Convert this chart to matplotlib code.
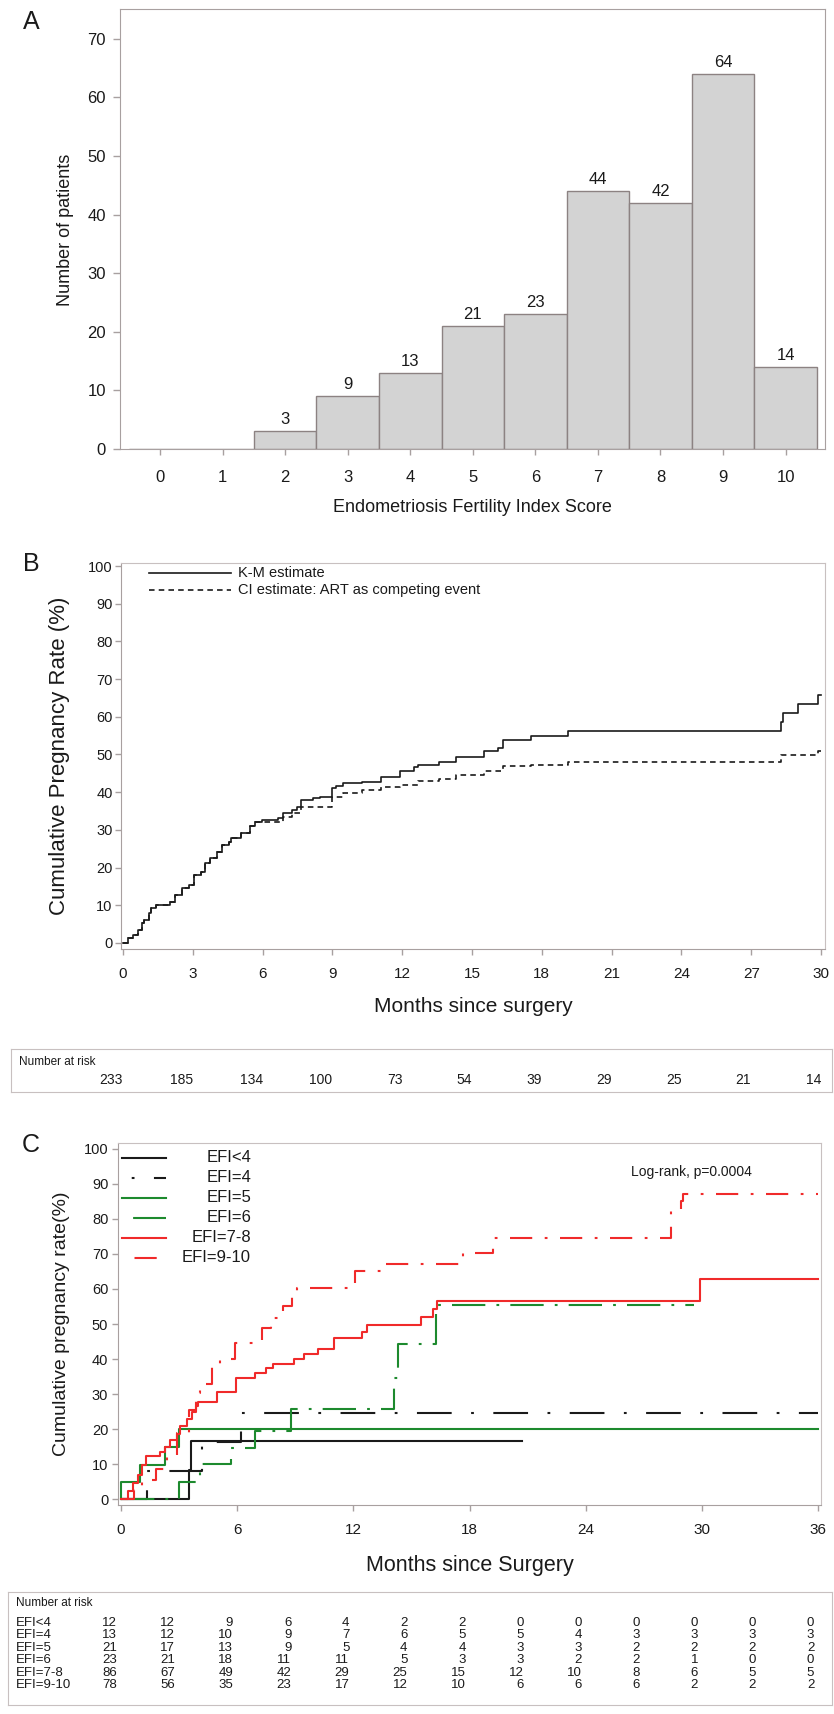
import matplotlib
matplotlib.use('Agg')
import matplotlib.pyplot as plt
from matplotlib.lines import Line2D
from matplotlib.transforms import blended_transform_factory

plt.rcParams['font.family'] = ['Liberation Sans', 'DejaVu Sans']
plt.rcParams['lines.scale_dashes'] = False

# ---------------- data ----------------
efi_score = [0, 1, 2, 3, 4, 5, 6, 7, 8, 9, 10]
n_patients = [0, 0, 3, 9, 13, 21, 23, 44, 42, 64, 14]

km_t = [0, 0.22, 0.42, 0.62, 0.82, 0.92, 1.12, 1.22, 1.43, 2.03, 2.23, 2.53, 2.83, 3.04, 3.34,
        3.54, 3.74, 4.04, 4.24, 4.54, 4.64, 5.05, 5.45, 5.65, 5.95, 6.66, 6.86, 7.26, 7.46, 7.66,
        8.17, 8.47, 8.97, 9.17, 9.47, 10.28, 11.08, 11.89, 12.49, 12.69, 13.6, 14.3, 15.51, 16.11,
        16.31, 17.52, 19.13, 28.28, 28.35, 28.99, 29.85, 30.0]
km_p = [0, 1.2, 2.1, 3.5, 5.2, 6.1, 7.9, 9.2, 10.1, 11.0, 12.7, 14.5, 15.4, 18.0, 18.9,
        21.1, 22.5, 24.2, 26.0, 26.9, 27.8, 29.1, 30.9, 32.2, 32.6, 33.1, 34.4, 35.3, 36.2, 37.9,
        38.4, 38.8, 41.0, 41.6, 42.4, 42.8, 44.1, 45.5, 46.6, 47.2, 48.1, 49.4, 50.8, 51.6,
        53.9, 54.9, 56.2, 58.7, 60.9, 63.3, 65.8, 65.8]

ci_t = [0, 0.22, 0.42, 0.62, 0.82, 0.92, 1.12, 1.22, 1.43, 2.03, 2.23, 2.53, 2.83, 3.04, 3.34,
        3.54, 3.74, 4.04, 4.24, 4.54, 4.64, 5.05, 5.45, 5.65, 6.86, 7.26, 7.66, 8.97, 9.47,
        10.28, 11.08, 11.89, 12.69, 13.6, 14.3, 15.51, 16.31, 17.52, 19.13, 28.28, 29.85, 30.0]
ci_p = [0, 1.2, 2.1, 3.5, 5.2, 6.1, 7.9, 9.2, 10.1, 11.0, 12.7, 14.5, 15.4, 18.0, 18.9,
        21.1, 22.5, 24.2, 26.0, 26.9, 27.8, 29.1, 30.9, 32.0, 33.3, 34.5, 36.2, 38.8, 39.7,
        40.5, 41.3, 42.0, 43.1, 43.6, 44.6, 45.5, 46.9, 47.2, 47.9, 49.9, 50.8, 50.8]

b_months = [0, 3, 6, 9, 12, 15, 18, 21, 24, 27, 30]
b_at_risk = [233, 185, 134, 100, 73, 54, 39, 29, 25, 21, 14]

efi_groups = ['EFI<4', 'EFI=4', 'EFI=5', 'EFI=6', 'EFI=7-8', 'EFI=9-10']
g1_t = [0, 3.5, 3.6, 20.7]
g1_p = [0, 8.3, 16.7, 16.7]
g2_t = [0, 1.33, 4.2, 6.2, 36.0]
g2_p = [0, 8.1, 16.4, 24.7, 24.7]
g3_t = [0, 0.02, 1.0, 2.3, 3.0, 36.0]
g3_p = [0, 4.8, 9.8, 14.8, 19.9, 19.9]
g4_t = [0, 3.0, 4.1, 5.7, 6.9, 8.8, 14.1, 14.32, 16.28, 29.6]
g4_p = [0, 5.0, 10.0, 14.5, 19.5, 25.8, 34.7, 44.3, 55.4, 55.4]
g5_t = [0, 0.36, 0.6, 0.9, 1.1, 1.3, 2.0, 2.3, 2.55, 2.9, 3.05, 3.4, 3.65, 3.9, 4.0, 4.96,
        5.93, 6.9, 7.5, 7.86, 8.95, 9.43, 10.16, 11.0, 12.45, 12.7, 15.48, 16.13, 16.33, 29.9, 36.0]
g5_p = [0, 2.3, 4.5, 7.0, 9.8, 12.3, 13.4, 15.0, 17.0, 18.6, 21.0, 23.0, 25.0, 26.5, 27.8, 30.7,
        34.5, 35.9, 37.3, 38.6, 39.9, 41.4, 42.8, 45.9, 47.8, 49.7, 52.1, 54.2, 56.6, 62.8, 62.8]
g6_t = [0, 0.7, 1.1, 1.8, 2.4, 2.9, 3.5, 3.9, 4.1, 4.7, 5.1, 5.9, 7.26, 7.74, 8.35, 8.83, 9.07,
        12.1, 13.7, 17.65, 19.2, 28.4, 28.9, 29.0, 36.0]
g6_p = [0, 2.6, 5.4, 8.5, 12.0, 18.8, 25.4, 30.2, 33.0, 38.6, 40.0, 44.7, 48.8, 51.6, 55.0, 58.8,
        60.2, 65.0, 67.1, 70.2, 74.5, 82.6, 85.0, 87.0, 87.0]

c_months = [0, 3, 6, 9, 12, 15, 18, 21, 24, 27, 30, 33, 36]
c_at_risk = [
    [12, 12, 9, 6, 4, 2, 2, 0, 0, 0, 0, 0, 0],
    [13, 12, 10, 9, 7, 6, 5, 5, 4, 3, 3, 3, 3],
    [21, 17, 13, 9, 5, 4, 4, 3, 3, 2, 2, 2, 2],
    [23, 21, 18, 11, 11, 5, 3, 3, 2, 2, 1, 0, 0],
    [86, 67, 49, 42, 29, 25, 15, 12, 10, 8, 6, 5, 5],
    [78, 56, 35, 23, 17, 12, 10, 6, 6, 6, 2, 2, 2],
]

# ---------------- layout helpers ----------------
W, H = 834, 1714
fig = plt.figure(figsize=(W / 100, H / 100), dpi=100)
fig.patch.set_facecolor('white')


def rect(x0, y0, x1, y1):
    return [x0 / W, 1 - y1 / H, (x1 - x0) / W, (y1 - y0) / H]


def fxy(x, y):
    return (x / W, 1 - y / H)


TXT = '#1a1a1a'
FRAME = '#a8a0a0'

# ---------------- Panel A ----------------
axA = fig.add_axes(rect(120, 9, 825, 449))
axA.bar(efi_score, n_patients, width=1.0, color='#d3d3d3', edgecolor='#8c8282', linewidth=1.0)
for s, n in zip(efi_score, n_patients):
    if n > 0:
        axA.annotate(str(n), (s, n), xytext=(0, 3), textcoords='offset points',
                     ha='center', va='bottom', fontsize=12, color=TXT)
axA.set_xlim(-0.64, 10.63)
axA.set_ylim(0, 75.1)
axA.set_xticks(efi_score)
axA.set_yticks(range(0, 71, 10))
axA.tick_params(axis='y', direction='out', length=5, width=1, color=FRAME, labelsize=12,
                labelcolor=TXT, pad=5)
axA.tick_params(axis='x', direction='out', length=4.5, width=1, color=FRAME, labelsize=12,
                labelcolor=TXT, pad=10.5)
for sp in axA.spines.values():
    sp.set_color(FRAME)
fig.text(*fxy(472, 507), 'Endometriosis Fertility Index Score', ha='center', va='center',
         fontsize=13, color=TXT)
fig.text(*fxy(66, 230), 'Number of patients', ha='center', va='center', rotation=90,
         fontsize=13, color=TXT)
fig.text(*fxy(31, 22), 'A', ha='center', va='center', fontsize=18, color=TXT)

# ---------------- Panel B ----------------
axB = fig.add_axes(rect(121, 563, 825, 949))
axB.step(km_t, km_p, where='post', color='#1a1a1a', lw=1.2, label='K-M estimate')
axB.step(ci_t, ci_p, where='post', color='#1a1a1a', lw=1.2, linestyle=(0, (4, 3)),
         label='CI estimate: ART as competing event')
axB.set_xlim(-0.09, 30.17)
axB.set_ylim(-1.6, 100.8)
axB.set_xticks(b_months)
axB.set_yticks(range(0, 101, 10))
axB.tick_params(axis='y', direction='out', length=4, width=1, color=FRAME, labelsize=10.5,
                labelcolor=TXT, pad=2)
axB.tick_params(axis='x', direction='out', length=4.5, width=1, color=FRAME, labelsize=11,
                labelcolor=TXT, pad=8.5)
for sp in axB.spines.values():
    sp.set_color('#c8c0c0')
axB.spines['left'].set_color(FRAME)
axB.spines['bottom'].set_color(FRAME)
# legend
fig.add_artist(Line2D([149 / W, 231 / W], [fxy(0, 573)[1]] * 2, color='#1a1a1a', lw=1.2))
fig.add_artist(Line2D([149 / W, 231 / W], [fxy(0, 590)[1]] * 2, color='#1a1a1a', lw=1.2,
                      linestyle=(0, (4, 3))))
fig.text(*fxy(238, 573), 'K-M estimate', ha='left', va='center', fontsize=10.5, color=TXT)
fig.text(*fxy(238, 590), 'CI estimate: ART as competing event', ha='left', va='center',
         fontsize=10.5, color=TXT)
fig.text(*fxy(60, 756), 'Cumulative Pregnancy Rate (%)', ha='center', va='center',
         rotation=90, fontsize=16, color=TXT)
fig.text(*fxy(473, 1007), 'Months since surgery', ha='center', va='center', fontsize=15,
         color=TXT)
fig.text(*fxy(31, 564), 'B', ha='center', va='center', fontsize=18, color=TXT)

# risk table B
boxB = fig.add_axes(rect(11, 1049, 832, 1092))
boxB.set_xticks([]); boxB.set_yticks([])
for sp in boxB.spines.values():
    sp.set_color('#c8c0c0')
boxB.text(8 / 821, 0.7, 'Number at risk', transform=boxB.transAxes, ha='left', va='center',
          fontsize=8.5, color=TXT)
trB = blended_transform_factory(axB.transData, boxB.transAxes)
for m, n in zip(b_months, b_at_risk):
    fig.text(m, 0.28, str(n), transform=trB, ha='right', va='center', fontsize=10, color=TXT)

# ---------------- Panel C ----------------
axC = fig.add_axes(rect(118, 1143, 821, 1505))
RED = '#f02a2a'
GREEN = '#1d8a2e'
BLK = '#1a1a1a'
styles = [
    dict(color=BLK, lw=1.5, linestyle='-'),
    dict(color=BLK, lw=1.5, linestyle=(0, (25, 14, 2, 14))),
    dict(color=GREEN, lw=1.5, linestyle='-'),
    dict(color=GREEN, lw=1.5, linestyle=(0, (24, 8, 2, 8))),
    dict(color=RED, lw=1.5, linestyle='-'),
    dict(color=RED, lw=1.5, linestyle=(0, (16, 9, 2, 9))),
]
series_t = [g1_t, g2_t, g3_t, g4_t, g5_t, g6_t]
series_p = [g1_p, g2_p, g3_p, g4_p, g5_p, g6_p]
for t, p, st, lab in zip(series_t, series_p, styles, efi_groups):
    axC.step(t, p, where='post', label=lab, **st)
axC.set_xlim(-0.15, 36.15)
axC.set_ylim(-1.7, 101.7)
axC.set_xticks(c_months[::2])
axC.set_yticks(range(0, 101, 10))
axC.tick_params(axis='y', direction='out', length=4, width=1, color=FRAME, labelsize=10.5,
                labelcolor=TXT, pad=3)
axC.tick_params(axis='x', direction='out', length=4, width=1, color=FRAME, labelsize=11,
                labelcolor=TXT, pad=9)
for sp in axC.spines.values():
    sp.set_color('#c8c0c0')
axC.spines['left'].set_color(FRAME)
axC.spines['bottom'].set_color(FRAME)
axC.text(0.73, 0.92, 'Log-rank, p=0.0004', transform=axC.transAxes, ha='left', va='center',
         fontsize=10, color=TXT)
legend_offsets = [0, 16 + 14 + 2, 0, 8 + 24 + 2, 0, 9 + 16 + 2]
for i, (st, lab) in enumerate(zip(styles, efi_groups)):
    yy = fxy(0, 1158 + 20 * i)[1]
    ls = st['linestyle']
    if ls != '-':
        ls = (legend_offsets[i], ls[1])
    fig.add_artist(Line2D([122 / W, 166 / W], [yy, yy], color=st['color'], lw=st['lw'],
                          linestyle=ls))
    fig.text(251 / W, yy, lab, ha='right', va='center', fontsize=12, color=TXT)
fig.text(*fxy(62, 1324), 'Cumulative pregnancy rate(%)', ha='center', va='center',
         rotation=90, fontsize=14, color=TXT)
fig.text(*fxy(470, 1565), 'Months since Surgery', ha='center', va='center', fontsize=15.5,
         color=TXT)
fig.text(*fxy(31, 1145), 'C', ha='center', va='center', fontsize=18, color=TXT)

# risk table C
boxC = fig.add_axes(rect(8, 1592, 832, 1705))
boxC.set_xticks([]); boxC.set_yticks([])
for sp in boxC.spines.values():
    sp.set_color('#c8c0c0')
boxC.text(8 / 824, (1705 - 1603) / 113, 'Number at risk', transform=boxC.transAxes,
          ha='left', va='center', fontsize=8.5, color=TXT)
trC = blended_transform_factory(axC.transData, boxC.transAxes)
for i, (lab, row) in enumerate(zip(efi_groups, c_at_risk)):
    yv = (1705 - (1623 + 12.4 * i)) / 113
    boxC.text(8 / 824, yv, lab, transform=boxC.transAxes, ha='left', va='center',
              fontsize=9.5, color=TXT)
    for m, n in zip(c_months, row):
        fig.text(m - 0.2, yv, str(n), transform=trC, ha='right', va='center', fontsize=9.5,
                 color=TXT)

fig.savefig('out.png', dpi=100, facecolor='white')
